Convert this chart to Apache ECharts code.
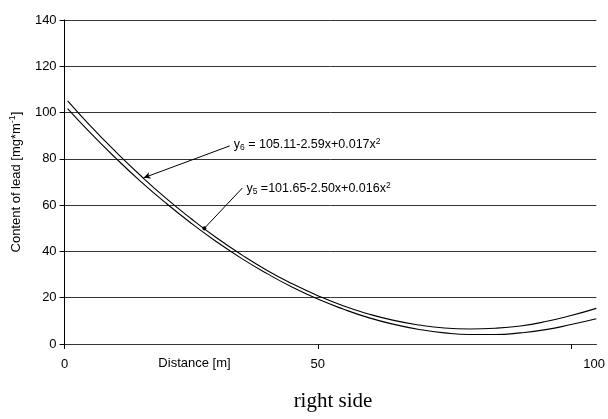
<!DOCTYPE html>
<html>
<head>
<meta charset="utf-8">
<script src="https://cdn.jsdelivr.net/npm/echarts@6/dist/echarts.min.js"></script>
<style>
html,body{margin:0;padding:0;background:#fff;}
#chart{width:608px;height:419px;}
</style>
</head>
<body>
<div id="chart"></div>
<script>
// Distance positions (in axis units) and read-off lead contents
var distance = [0.6, 5, 10, 15, 20, 25, 30, 35, 40, 45, 50, 55, 60, 65, 70, 75, 80, 85, 90, 95, 100, 105];
var leadY6 = [105.1, 94.5, 83.3, 72.8, 63.0, 54.1, 45.9, 38.5, 31.8, 26.0, 20.9, 16.5, 13.0, 10.2, 8.2, 6.9, 6.5, 6.8, 7.8, 9.7, 12.3, 15.4];
var leadY5 = [101.7, 91.4, 80.5, 70.3, 60.9, 52.2, 44.2, 36.9, 30.4, 24.5, 19.4, 15.1, 11.4, 8.5, 6.3, 4.8, 4.1, 4.1, 4.8, 6.2, 8.4, 10.9];
var xTicks = [0, 50, 100];
var yTicks = [0, 20, 40, 60, 80, 100, 120, 140];

var font = 'Arial, "Liberation Sans", sans-serif';
var chart = echarts.init(document.getElementById('chart'), null, {renderer: 'canvas'});

function pairs(xs, ys) { return xs.map(function (x, i) { return [x, ys[i]]; }); }

var richEq = {
  a: {fontFamily: font, fontSize: 12.5, color: '#000', lineHeight: 15},
  sub: {fontFamily: font, fontSize: 8.5, color: '#000', verticalAlign: 'bottom', lineHeight: 15, padding: [4, 0, 0, 0]},
  sup: {fontFamily: font, fontSize: 8.5, color: '#000', verticalAlign: 'top', lineHeight: 15, padding: [0, 0, 6, 0]}
};

var option = {
  animation: false,
  backgroundColor: '#fff',
  title: {
    text: 'right side',
    left: 328,
    textAlign: 'center',
    top: 386,
    textStyle: {fontFamily: '"Liberation Serif", "Times New Roman", serif', fontSize: 21, fontWeight: 'normal', color: '#000'}
  },
  grid: {left: 64, right: 0, top: 20, bottom: 75, containLabel: false},
  xAxis: {
    type: 'value',
    min: 0,
    max: 105,
    interval: 50,
    name: 'Distance [m]',
    nameLocation: 'middle',
    nameGap: 13,
    nameMoveOverlap: false,
    nameTextStyle: {fontFamily: font, fontSize: 13, color: '#000', padding: [0, 272, 0, 0]},
    axisLine: {show: true, lineStyle: {color: '#333', width: 1}},
    axisTick: {show: true, length: 5, lineStyle: {color: '#000'}, customValues: xTicks},
    axisLabel: {
      show: true, fontFamily: font, fontSize: 13, color: '#000', margin: 14,
      customValues: xTicks,
      formatter: function (v) { return v === 100 ? '{r|100}' : String(v); },
      rich: {r: {fontFamily: font, fontSize: 13, color: '#000', width: 68, align: 'right'}}
    },
    splitLine: {show: false}
  },
  yAxis: {
    type: 'value',
    min: 0,
    max: 140,
    interval: 20,
    name: '{a|Content of lead [mg*m}{s|-1}{a|]}',
    nameLocation: 'middle',
    nameRotate: 90,
    nameGap: 39,
    nameTextStyle: {
      rich: {
        a: {fontFamily: font, fontSize: 13, color: '#000', lineHeight: 16},
        s: {fontFamily: font, fontSize: 9, color: '#000', verticalAlign: 'top', lineHeight: 16, padding: [0, 0, 7, 0]}
      }
    },
    axisLine: {show: true, lineStyle: {color: '#000', width: 1}},
    axisTick: {show: true, length: 5, lineStyle: {color: '#000'}},
    axisLabel: {fontFamily: font, fontSize: 13, color: '#000', margin: 8},
    splitLine: {show: true, lineStyle: {color: '#333', width: 1}}
  },
  series: [
    {
      name: 'y6',
      type: 'line',
      smooth: true,
      symbol: 'none',
      data: pairs(distance, leadY6),
      lineStyle: {color: '#000', width: 1.1},
      markLine: {
        silent: true,
        symbol: ['none', 'arrow'],
        symbolSize: [5, 7],
        label: {show: false},
        lineStyle: {color: '#000', width: 1, type: 'solid'},
        data: [[{coord: [32.6, 85.6]}, {coord: [15.6, 71.8]}]]
      },
      markPoint: {
        silent: true,
        symbol: 'circle',
        symbolSize: 0,
        data: [{
          coord: [33.0, 86.0],
          label: {
            show: true, position: 'right', distance: 2,
            formatter: '{a|y}{sub|6}{a| = 105.11-2.59x+0.017x}{sup|2}',
            rich: richEq
          }
        }]
      }
    },
    {
      name: 'y5',
      type: 'line',
      smooth: true,
      symbol: 'none',
      data: pairs(distance, leadY5),
      lineStyle: {color: '#000', width: 1.1},
      markLine: {
        silent: true,
        symbol: ['none', 'circle'],
        symbolSize: 4,
        label: {show: false},
        lineStyle: {color: '#000', width: 1, type: 'solid'},
        data: [[{coord: [35.1, 67.4]}, {coord: [27.6, 50.0]}]]
      },
      markPoint: {
        silent: true,
        symbol: 'circle',
        symbolSize: 0,
        data: [{
          coord: [35.5, 67.2],
          label: {
            show: true, position: 'right', distance: 2,
            formatter: '{a|y}{sub|5}{a| =101.65-2.50x+0.016x}{sup|2}',
            rich: richEq
          }
        }]
      }
    }
  ]
};
chart.setOption(option);
</script>
</body>
</html>
